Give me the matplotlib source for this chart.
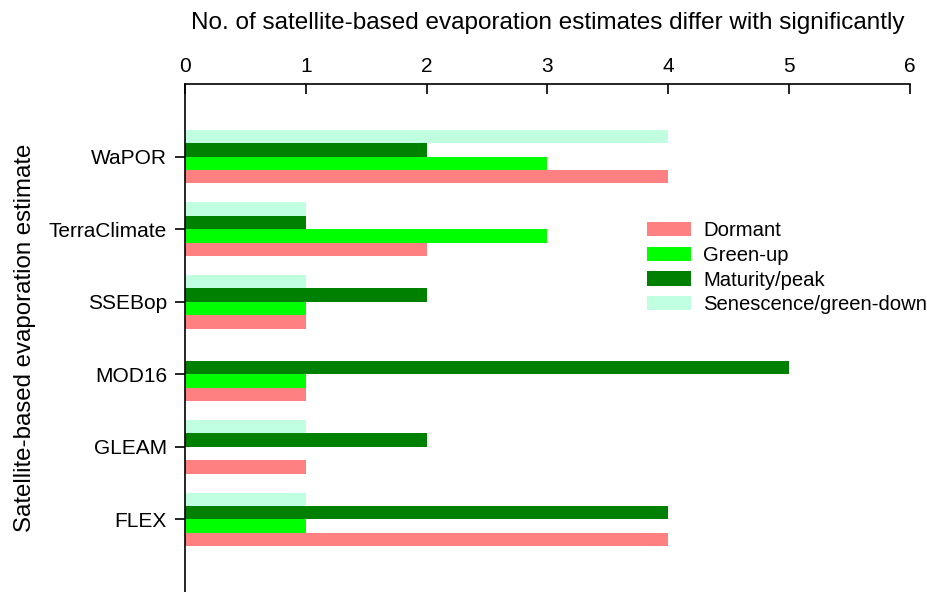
import numpy as np
import matplotlib
matplotlib.use('Agg')
import matplotlib.pyplot as plt

plt.rcParams['font.family'] = ['Liberation Sans', 'DejaVu Sans']

# Data (bottom to top)
products = ['FLEX', 'GLEAM', 'MOD16', 'SSEBop', 'TerraClimate', 'WaPOR']
dormant = [4, 1, 1, 1, 2, 4]
green_up = [1, 0, 1, 1, 3, 3]
maturity = [4, 2, 5, 2, 1, 2]
senescence = [1, 1, 0, 1, 1, 4]

series = [('Dormant', dormant, '#FF8080'),
          ('Green-up', green_up, '#00FF00'),
          ('Maturity/peak', maturity, '#008000'),
          ('Senescence/green-down', senescence, '#C0FFE0')]

fig = plt.figure(figsize=(9.28, 5.92), dpi=100)
ax = fig.add_axes([185 / 928, 0, 725 / 928, 508 / 592])

y = np.arange(len(products))
h = 0.185
offsets = [-1.5, -0.5, 0.5, 1.5]
for (name, vals, col), off in zip(series, offsets):
    ax.barh(y + off * h, vals, height=h, color=col, label=name, edgecolor='none')

ax.set_xlim(0, 6)
ax.set_ylim(-1, 6)
ax.set_yticks(y)
ax.set_yticklabels(products)
ax.xaxis.tick_top()
ax.xaxis.set_label_position('top')
ax.set_xticks(range(7))
ax.tick_params(axis='x', direction='in', length=7, width=1.2, labelsize=15, pad=6)
ax.tick_params(axis='y', direction='out', length=7, width=1.2, labelsize=15, pad=6)

for s in ['right', 'bottom']:
    ax.spines[s].set_visible(False)
for s in ['top', 'left']:
    ax.spines[s].set_linewidth(1.2)

ax.set_xlabel('No. of satellite-based evaporation estimates differ with significantly',
              fontsize=17.5, labelpad=20)
ax.set_ylabel('Satellite-based evaporation estimate', fontsize=17.3)
ax.yaxis.set_label_coords(-0.205, 0.5)

ax.legend(loc='upper left', bbox_to_anchor=(0.637, 0.73), frameon=False,
          fontsize=14.6, handlelength=2.17, handleheight=0.7, labelspacing=0.28,
          handletextpad=0.6, borderaxespad=0, borderpad=0)

plt.savefig('out.png', dpi=100)
